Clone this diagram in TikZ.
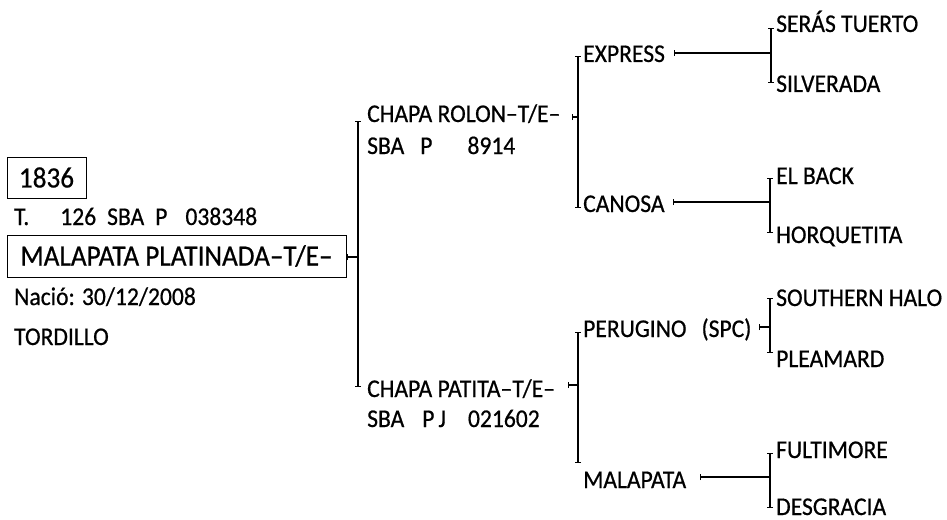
\documentclass[tikz,border=0pt]{standalone}
\usepackage{fontspec}
\setmainfont[FakeStretch=0.925,FakeBold=0.6]{Carlito}
\usetikzlibrary{arrows.meta}
\begin{document}
\begin{tikzpicture}[x=1pt,y=1pt,
    forkline/.style={line width=1.1pt,{Bar[width=6pt,line width=1pt]}-{Bar[width=6pt,line width=1pt]}},
    stemline/.style={line width=1.1pt,{Bar[width=6pt,line width=1pt]}-},
    numbox/.style={draw,line width=1pt,anchor=center,minimum width=79pt,minimum height=41pt,font=\fontsize{29.4}{34}\selectfont},
    bigbox/.style={draw,line width=1pt,anchor=center,minimum width=339pt,minimum height=42pt,font=\fontsize{29.4}{34}\selectfont}]
    \tikzstyle{every node}+=[inner sep=0pt,anchor=base west,font=\fontsize{25.5}{30}\selectfont]
    \useasboundingbox (0,0) rectangle (947,-519);
    \node[numbox] (num) at (46.5,-177.5) {1836};
    \node (reg) at (14,-225) {T.\hspace{31pt}126\hspace{11pt}SBA\hspace{11pt}P\hspace{18pt}038348};
    \node[bigbox] (root) at (176.5,-256) {MALAPATA PLATINADA–T/E–};
    \node (born) at (14,-305) {Nació: 30/12/2008};
    \node (coat) at (14,-345) {TORDILLO};
    \node (s) at (367,-122) {CHAPA ROLON–T/E–};
    \node (sreg) at (367,-154) {SBA\hspace{16pt}P\hspace{35pt}8914};
    \node (d) at (367,-397) {CHAPA PATITA–T/E–};
    \node (dreg) at (367,-427) {SBA\hspace{18pt}P\hspace{4pt}J\hspace{22pt}021602};
    \node (ss) at (583,-62) {EXPRESS};
    \node (sd) at (583,-212) {CANOSA};
    \node (ds) at (583,-337) {PERUGINO\hspace{15pt}(SPC)};
    \node (dd) at (583,-488) {MALAPATA};
    \node (sss) at (776,-32) {SERÁS TUERTO};
    \node (ssd) at (776,-92) {SILVERADA};
    \node (sds) at (776,-184) {EL BACK};
    \node (sdd) at (776,-243) {HORQUETITA};
    \node (dss) at (776,-306) {SOUTHERN HALO};
    \node (dsd) at (776,-367) {PLEAMARD};
    \node (dds) at (776,-458) {FULTIMORE};
    \node (ddd) at (776,-515) {DESGRACIA};
    \coordinate (rt) at (347,-257);
    \coordinate (s0) at (358,-121);
    \coordinate (d0) at (358,-387);
    \coordinate (sx) at (572,-117);
    \coordinate (ssv) at (578,-56);
    \coordinate (sdv) at (578,-208);
    \coordinate (dx) at (568,-385);
    \coordinate (dsv) at (578,-332);
    \coordinate (ddv) at (578,-463);
    \coordinate (ssx) at (674,-53);
    \coordinate (sssv) at (771,-28);
    \coordinate (ssdv) at (771,-83);
    \coordinate (sdx) at (673,-202);
    \coordinate (sdsv) at (770,-178);
    \coordinate (sddv) at (770,-233);
    \coordinate (dsx) at (759,-327);
    \coordinate (dssv) at (770,-298);
    \coordinate (dsdv) at (770,-353);
    \coordinate (ddx) at (700,-477);
    \coordinate (ddsv) at (770,-453);
    \coordinate (dddv) at (770,-508);
    \draw[forkline] (s0) -- (d0);
    \draw[stemline] (rt) -- (rt -| s0);
    \draw[forkline] (ssv) -- (sdv);
    \draw[stemline] (sx) -- (sx -| ssv);
    \draw[forkline] (dsv) -- (ddv);
    \draw[stemline] (dx) -- (dx -| dsv);
    \draw[forkline] (sssv) -- (ssdv);
    \draw[stemline] (ssx) -- (ssx -| sssv);
    \draw[forkline] (sdsv) -- (sddv);
    \draw[stemline] (sdx) -- (sdx -| sdsv);
    \draw[forkline] (dssv) -- (dsdv);
    \draw[stemline] (dsx) -- (dsx -| dssv);
    \draw[forkline] (ddsv) -- (dddv);
    \draw[stemline] (ddx) -- (ddx -| ddsv);
\end{tikzpicture}
\end{document}
